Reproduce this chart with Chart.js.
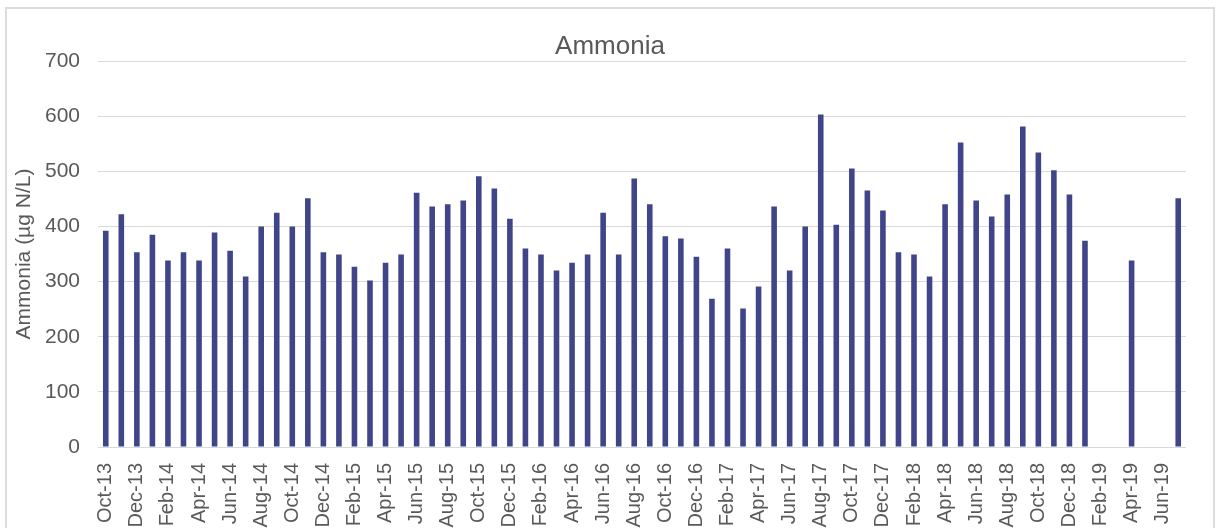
<!DOCTYPE html>
<html>
<head>
<meta charset="utf-8">
<script src="https://cdn.jsdelivr.net/npm/chart.js@4/dist/chart.umd.min.js"></script>
<style>
    html, body { margin: 0; padding: 0; background: #fff; overflow: hidden; }
    #wrap { position: relative; width: 1216px; height: 528px; overflow: hidden; }
    #frame {
        position: absolute; left: 5px; top: 7px; width: 1206px; height: 600px;
        border: 2px solid #dcdcdc; pointer-events: none;
    }
</style>
</head>
<body>
<div id="wrap">
    <canvas id="ammonia" width="1216" height="560"></canvas>
    <div id="frame"></div>
</div>
<script>
const months = [
    'Oct-13', 'Nov-13', 'Dec-13',
    'Jan-14', 'Feb-14', 'Mar-14', 'Apr-14', 'May-14', 'Jun-14', 'Jul-14', 'Aug-14', 'Sep-14', 'Oct-14', 'Nov-14', 'Dec-14',
    'Jan-15', 'Feb-15', 'Mar-15', 'Apr-15', 'May-15', 'Jun-15', 'Jul-15', 'Aug-15', 'Sep-15', 'Oct-15', 'Nov-15', 'Dec-15',
    'Jan-16', 'Feb-16', 'Mar-16', 'Apr-16', 'May-16', 'Jun-16', 'Jul-16', 'Aug-16', 'Sep-16', 'Oct-16', 'Nov-16', 'Dec-16',
    'Jan-17', 'Feb-17', 'Mar-17', 'Apr-17', 'May-17', 'Jun-17', 'Jul-17', 'Aug-17', 'Sep-17', 'Oct-17', 'Nov-17', 'Dec-17',
    'Jan-18', 'Feb-18', 'Mar-18', 'Apr-18', 'May-18', 'Jun-18', 'Jul-18', 'Aug-18', 'Sep-18', 'Oct-18', 'Nov-18', 'Dec-18',
    'Jan-19', 'Feb-19', 'Mar-19', 'Apr-19', 'May-19', 'Jun-19', 'Jul-19'
];

// ug N/L, null = no sample that month
const ammonia = [
    392, 422, 353,
    385, 338, 353, 338, 389, 356, 309, 400, 425, 400, 451, 353,
    349, 327, 302, 334, 349, 461, 436, 440, 447, 491, 469, 414,
    360, 349, 320, 334, 349, 425, 349, 487, 440, 382, 378, 345,
    269, 360, 251, 291, 436, 320, 400, 603, 403, 505, 465, 429,
    353, 349, 309, 440, 552, 447, 418, 458, 581, 534, 502, 458,
    374, null, null, 338, null, null, 451
];

const yTicks = { min: 0, max: 700, step: 100 };

const textColor = '#595959';
const gridColor = '#d9d9d9';
const barColor = '#3f4588';
const font = 'Liberation Sans, Arial, sans-serif';

// title is centred on the whole frame, not on the plot box
const frameTitle = {
    id: 'frameTitle',
    afterDraw(chart) {
        const ctx = chart.ctx;
        ctx.save();
        ctx.fillStyle = textColor;
        ctx.font = '26px ' + font;
        ctx.textAlign = 'center';
        ctx.textBaseline = 'alphabetic';
        ctx.fillText('Ammonia', 610, 54);
        ctx.restore();
    }
};

new Chart(document.getElementById('ammonia'), {
    type: 'bar',
    data: {
        labels: months,
        datasets: [{
            label: 'Ammonia',
            data: ammonia,
            backgroundColor: barColor,
            borderWidth: 0,
            barPercentage: 0.36,
            categoryPercentage: 1
        }]
    },
    options: {
        responsive: false,
        animation: false,
        devicePixelRatio: 1,
        layout: { padding: { left: 0, right: 30, top: 61, bottom: 0 } },
        plugins: {
            legend: { display: false },
            tooltip: { enabled: false },
            title: { display: false }
        },
        scales: {
            x: {
                offset: true,
                afterFit: (scale) => { scale.height = 113; },
                grid: { display: false },
                border: { display: false },
                ticks: {
                    autoSkip: false,
                    minRotation: 90,
                    maxRotation: 90,
                    padding: 8,
                    color: textColor,
                    font: { family: font, size: 20 },
                    callback: (v, i) => (i % 2 === 0 ? months[i] : '')
                }
            },
            y: {
                min: yTicks.min,
                max: yTicks.max,
                afterFit: (scale) => { scale.width = 98; },
                grid: { color: gridColor, lineWidth: 1, drawTicks: false },
                border: { display: false },
                ticks: {
                    stepSize: yTicks.step,
                    padding: 18,
                    color: textColor,
                    font: { family: font, size: 21 }
                },
                title: {
                    display: true,
                    text: 'Ammonia (µg N/L)',
                    color: textColor,
                    font: { family: font, size: 21, weight: 'normal' },
                    padding: { top: 12, bottom: 0 }
                }
            }
        }
    },
    plugins: [frameTitle]
});
</script>
</body>
</html>
